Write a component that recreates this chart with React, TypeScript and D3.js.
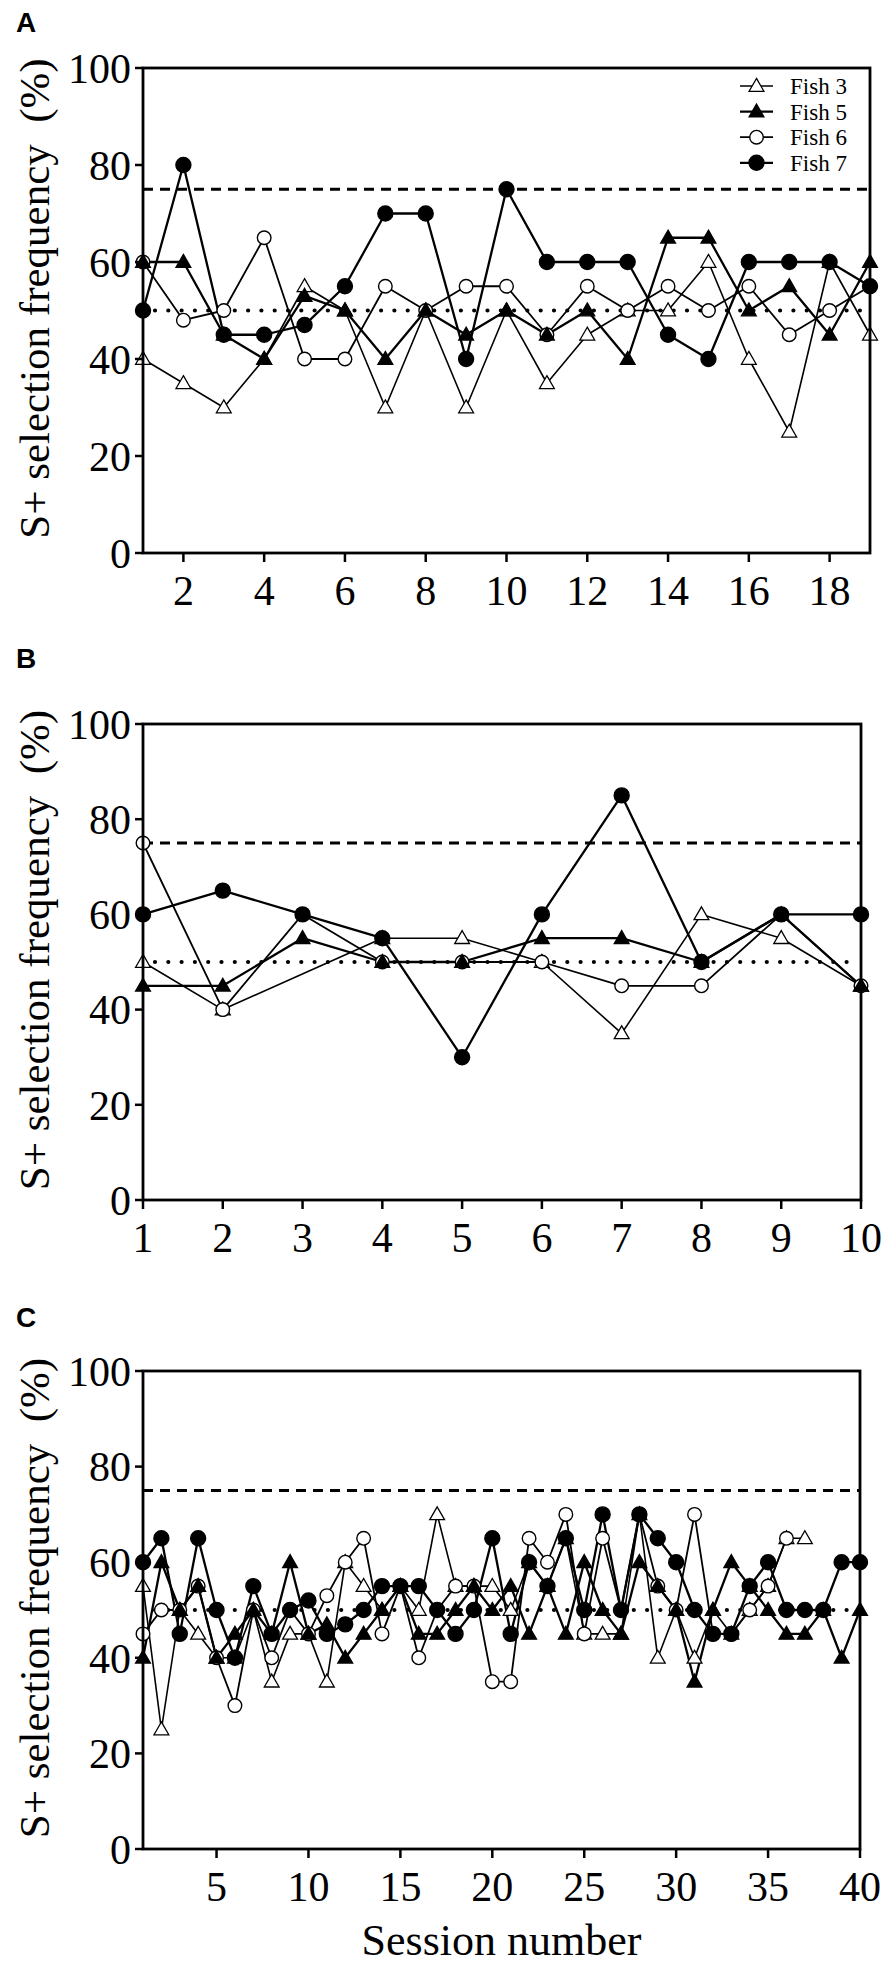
import React, { useEffect, useRef } from 'react';
import * as d3 from 'd3';

const fishNames = ['Fish 3', 'Fish 5', 'Fish 6', 'Fish 7'];
const yTicks = [0, 20, 40, 60, 80, 100];
const criterionLevel = 75;
const chanceLevel = 50;

// Panel A (sessions 1-19)
const xTicksA = [2, 4, 6, 8, 10, 12, 14, 16, 18];
const fish3A = [40, 35, 30, 40, 55, 50, 30, 50, 30, 50, 35, 45, 50, 50, 60, 40, 25, 60, 45];
const fish5A = [60, 60, 45, 40, 53, 50, 40, 50, 45, 50, 45, 50, 40, 65, 65, 50, 55, 45, 60];
const fish6A = [60, 48, 50, 65, 40, 40, 55, 50, 55, 55, 45, 55, 50, 55, 50, 55, 45, 50, 55];
const fish7A = [50, 80, 45, 45, 47, 55, 70, 70, 40, 75, 60, 60, 60, 45, 40, 60, 60, 60, 55];

// Panel B (sessions 1-10)
const xTicksB = [1, 2, 3, 4, 5, 6, 7, 8, 9, 10];
const fish3B = [50, 40, null, 55, 55, 50, 35, 60, 55, 45];
const fish5B = [45, 45, 55, 50, 50, 55, 55, 50, 60, 45];
const fish6B = [75, 40, 60, 50, 50, 50, 45, 45, 60, 45];
const fish7B = [60, 65, 60, 55, 30, 60, 85, 50, 60, 60];

// Panel C (sessions 1-40)
const xTicksC = [5, 10, 15, 20, 25, 30, 35, 40];
const fish3C = [55, 25, 50, 45, 40, 40, 50, 35, 45, 45, 35, 60, 55, 50, 55, 50, 70, 55, 55, 55,
  50, 60, 55, 65, 45, 45, 45, 70, 40, 50, 40, 50, 45, 50, 55, 65, 65];
const fish5C = [40, 60, 50, 55, 40, 45, 50, 45, 60, 45, 47, 40, 45, 50, 55, 45, 45, 50, 55, 50,
  55, 45, 55, 45, 60, 50, 45, 60, 55, 50, 35, 50, 60, 55, 50, 45, 45, 50, 40, 50];
const fish6C = [45, 50, 50, 55, 40, 30, 50, 40, 50, 45, 53, 60, 65, 45, 55, 40, 50, 55, 55, 35,
  35, 65, 60, 70, 45, 65, 50, 70, 55, 50, 70, 45, 45, 50, 55, 65];
const fish7C = [60, 65, 45, 65, 50, 40, 55, 45, 50, 52, 45, 47, 50, 55, 55, 55, 50, 45, 50, 65,
  45, 60, 55, 65, 50, 70, 50, 70, 65, 60, 50, 45, 45, 55, 60, 50, 50, 50, 60, 60];

type Marker = 'openTri' | 'filledTri' | 'openCircle' | 'filledCircle';
const markers: Marker[] = ['openTri', 'filledTri', 'openCircle', 'filledCircle'];
const lineWidths = [1.6, 2.3, 1.8, 2.3];

const serif = "'Liberation Serif', 'Times New Roman', Times, serif";
const sans = "'Liberation Sans', Arial, sans-serif";

const panels = [
  { letter: 'A', letterY: 32, top: 68, bottom: 553, left: 143, right: 870, last: 19, ticks: xTicksA,
    series: [fish3A, fish5A, fish6A, fish7A], legend: true, xTitle: false },
  { letter: 'B', letterY: 668, top: 724, bottom: 1200, left: 143, right: 861, last: 10, ticks: xTicksB,
    series: [fish3B, fish5B, fish6B, fish7B], legend: false, xTitle: false },
  { letter: 'C', letterY: 1327, top: 1371, bottom: 1849, left: 143, right: 860, last: 40, ticks: xTicksC,
    series: [fish3C, fish5C, fish6C, fish7C], legend: false, xTitle: true },
];

const triPath = d3.symbol().type(d3.symbolTriangle).size(95)()!;

function drawMarker(g: d3.Selection<SVGGElement, unknown, null, undefined>, kind: Marker, cx: number, cy: number) {
  if (kind === 'openCircle' || kind === 'filledCircle') {
    g.append('circle')
      .attr('cx', cx).attr('cy', cy)
      .attr('r', kind === 'filledCircle' ? 7.5 : 6.8)
      .attr('fill', kind === 'filledCircle' ? '#000' : '#fff')
      .attr('stroke', '#000')
      .attr('stroke-width', 1.4);
  } else {
    g.append('path')
      .attr('d', triPath)
      .attr('transform', `translate(${cx},${cy + 1})`)
      .attr('fill', kind === 'filledTri' ? '#000' : '#fff')
      .attr('stroke', '#000')
      .attr('stroke-width', 1.3);
  }
}

const App: React.FC = () => {
  const svgRef = useRef<SVGSVGElement>(null);

  useEffect(() => {
    if (!svgRef.current) return;
    const svg = d3.select(svgRef.current);
    svg.selectAll('*').remove();

    panels.forEach(p => {
      const x = d3.scaleLinear().domain([1, p.last]).range([p.left, p.right]);
      const y = d3.scaleLinear().domain([0, 100]).range([p.bottom, p.top]);
      const g = svg.append('g');

      // criterion (75%) and chance (50%) lines
      g.append('line')
        .attr('x1', p.left).attr('x2', p.right)
        .attr('y1', y(criterionLevel)).attr('y2', y(criterionLevel))
        .attr('stroke', '#000').attr('stroke-width', 3.2)
        .attr('stroke-dasharray', '10,7');
      g.append('line')
        .attr('x1', p.left + 12).attr('x2', p.right - 4)
        .attr('y1', y(chanceLevel)).attr('y2', y(chanceLevel))
        .attr('stroke', '#000').attr('stroke-width', 4.2)
        .attr('stroke-linecap', 'round')
        .attr('stroke-dasharray', '0,13.3');

      const pointsOf = (vals: (number | null)[]) =>
        vals.map((v, i) => ({ s: i + 1, v })).filter(d => d.v !== null) as { s: number; v: number }[];

      const line = d3.line<{ s: number; v: number }>().x(d => x(d.s)).y(d => y(d.v));

      p.series.forEach((vals, k) => {
        g.append('path')
          .attr('d', line(pointsOf(vals)))
          .attr('fill', 'none')
          .attr('stroke', '#000')
          .attr('stroke-width', lineWidths[k])
          .attr('stroke-linejoin', 'round');
      });

      // markers: open symbols first, filled on top
      [0, 2, 1, 3].forEach(k => {
        pointsOf(p.series[k]).forEach(d => drawMarker(g, markers[k], x(d.s), y(d.v)));
      });

      // frame
      g.append('rect')
        .attr('x', p.left).attr('y', p.top)
        .attr('width', p.right - p.left).attr('height', p.bottom - p.top)
        .attr('fill', 'none').attr('stroke', '#000').attr('stroke-width', 2.8);

      // y axis
      yTicks.forEach(t => {
        g.append('line')
          .attr('x1', p.left - 8).attr('x2', p.left)
          .attr('y1', y(t)).attr('y2', y(t))
          .attr('stroke', '#000').attr('stroke-width', 2.5);
        g.append('text')
          .attr('x', p.left - 12).attr('y', y(t))
          .attr('dy', '0.35em')
          .attr('text-anchor', 'end')
          .attr('font-family', serif)
          .attr('font-size', 42)
          .text(t);
      });

      // x axis
      p.ticks.forEach(t => {
        g.append('line')
          .attr('x1', x(t)).attr('x2', x(t))
          .attr('y1', p.bottom).attr('y2', p.bottom + 9)
          .attr('stroke', '#000').attr('stroke-width', 2.5);
        g.append('text')
          .attr('x', x(t)).attr('y', p.bottom + 52)
          .attr('text-anchor', 'middle')
          .attr('font-family', serif)
          .attr('font-size', 42)
          .text(t);
      });

      // y title
      g.append('text')
        .attr('transform', `translate(34,${(p.top + p.bottom) / 2 - 12}) rotate(-90)`)
        .attr('text-anchor', 'middle')
        .attr('dominant-baseline', 'central')
        .attr('font-family', serif)
        .attr('font-size', 43)
        .style('white-space', 'pre')
        .text('S+ selection frequency  (%)');

      // panel letter
      g.append('text')
        .attr('x', 16).attr('y', p.letterY)
        .attr('font-family', sans)
        .attr('font-weight', 'bold')
        .attr('font-size', 28)
        .text(p.letter);

      if (p.xTitle) {
        g.append('text')
          .attr('x', (p.left + p.right) / 2).attr('y', p.bottom + 106)
          .attr('text-anchor', 'middle')
          .attr('font-family', serif)
          .attr('font-size', 44)
          .text('Session number');
      }

      if (p.legend) {
        const lg = g.append('g');
        fishNames.forEach((name, k) => {
          const ly = 86 + k * 25.6;
          lg.append('line')
            .attr('x1', 740).attr('x2', 773)
            .attr('y1', ly).attr('y2', ly)
            .attr('stroke', '#000').attr('stroke-width', lineWidths[k]);
          drawMarker(lg, markers[k], 756.5, ly);
          lg.append('text')
            .attr('x', 790).attr('y', ly + 8)
            .attr('font-family', serif)
            .attr('font-size', 23)
            .text(name);
        });
      }
    });
  }, []);

  return (
    <svg
      ref={svgRef}
      width={892}
      height={1969}
      style={{ position: 'absolute', left: 0, top: 0, background: '#fff' }}
    />
  );
};

export default App;
